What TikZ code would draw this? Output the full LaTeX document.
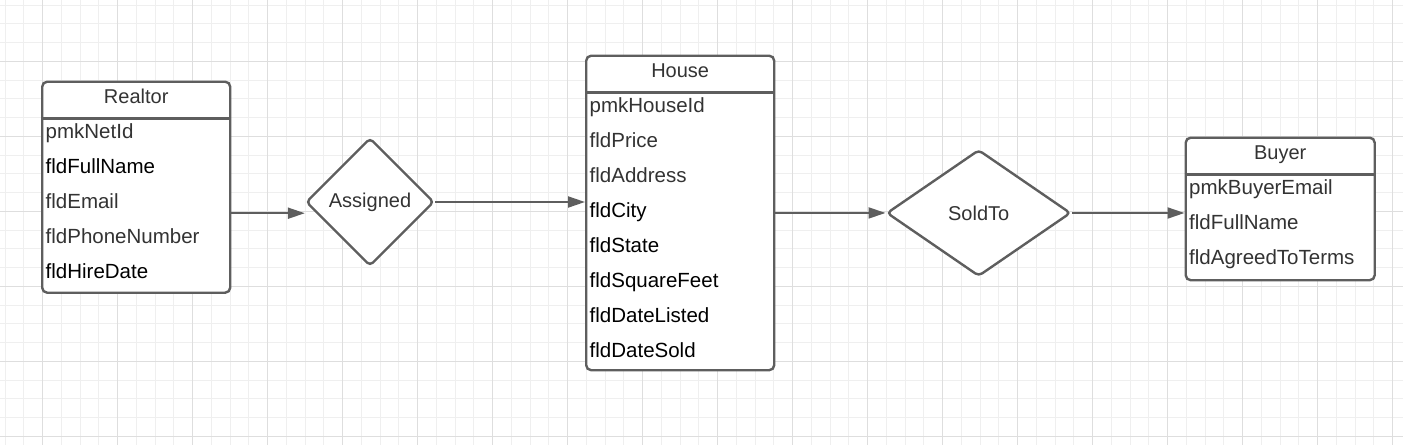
\documentclass[tikz,border=0pt]{standalone}
\usepackage{fontspec}
\setmainfont{Liberation Sans}
\usetikzlibrary{shapes.geometric, arrows.meta, positioning, calc}
\definecolor{erdline}{HTML}{5E5E5E}
\definecolor{erdtext}{HTML}{333333}
\definecolor{gridminor}{HTML}{EFEFEF}
\definecolor{gridmajor}{HTML}{DEDEDE}

\begin{document}
\begin{tikzpicture}[
        x=1pt, y=-1pt,
        entity/.style={rectangle, draw=erdline, fill=white, line width=2.4pt, rounded corners=5pt, inner sep=0pt, anchor=north west},
        divider/.style={draw=erdline, line width=2.4pt},
        entitytitle/.style={anchor=base, inner sep=0pt, text=erdtext, font=\fontsize{20}{24}\selectfont},
        attr/.style={anchor=base west, inner sep=0pt, font=\fontsize{20.5}{24}\selectfont},
        relation/.style={diamond, draw=erdline, fill=white, line width=2.4pt, rounded corners=4pt, inner sep=0pt, text=erdtext, font=\fontsize{20}{24}\selectfont},
        arrow/.style={-{Triangle[length=17pt, width=11pt]}, line width=2pt, erdline}
    ]

    % grid paper
    \useasboundingbox (0,0) rectangle (1403,445);
    \fill[white] (0,0) rectangle (1403,445);
    \foreach \k in {0,...,74} \draw[gridminor, line width=1pt] (5+18.75*\k,0) -- (5+18.75*\k,445);
    \foreach \k in {0,...,23} \draw[gridminor, line width=1pt] (0,5+18.75*\k) -- (1403,5+18.75*\k);
    \foreach \k in {0,...,18} \draw[gridmajor, line width=1pt] (42.5+75*\k,0) -- (42.5+75*\k,445);
    \foreach \k in {0,...,5} \draw[gridmajor, line width=1pt] (0,61.25+75*\k) -- (1403,61.25+75*\k);

    % entities
    \node[entity, minimum width=188pt, minimum height=211pt] (realtor) at (41,80.5) {};
    \node[entity, minimum width=188pt, minimum height=314.5pt] (house) at (585,54.5) {};
    \node[entity, minimum width=189pt, minimum height=142.5pt] (buyer) at (1184.5,136.5) {};

    \foreach \ent/\name in {realtor/Realtor, house/House, buyer/Buyer} {
        \draw[divider] ([yshift=-38pt]\ent.north west) -- ([yshift=-38pt]\ent.north east);
        \node[entitytitle] (\ent-title) at ([yshift=-23pt]\ent.north) {\name};
    }

    \foreach \txt/\col [count=\i] in {pmkNetId/erdtext, fldFullName/black, fldEmail/erdtext, fldPhoneNumber/erdtext, fldHireDate/black}
        \node[attr, text=\col] (realtor-\i) at ([xshift=4.5pt, yshift={-23pt-35pt*\i}]realtor.north west) {\txt};

    \foreach \txt/\col [count=\i] in {pmkHouseId/erdtext, fldPrice/erdtext, fldAddress/erdtext, fldCity/black, fldState/black, fldSquareFeet/black, fldDateListed/black, fldDateSold/black}
        \node[attr, text=\col] (house-\i) at ([xshift=4.5pt, yshift={-23pt-35pt*\i}]house.north west) {\txt};

    \foreach \txt/\col [count=\i] in {pmkBuyerEmail/erdtext, fldFullName/erdtext, fldAgreedToTerms/erdtext}
        \node[attr, text=\col] (buyer-\i) at ([xshift=4.5pt, yshift={-23pt-35pt*\i}]buyer.north west) {\txt};

    % relationships
    \node[relation, minimum width=128pt, minimum height=128pt] (assigned) at (370,202) {Assigned};
    \node[relation, minimum width=184pt, minimum height=126.5pt] (soldto) at (978.7,213) {SoldTo};

    \draw[arrow] ([yshift=-26pt]realtor.east) -- ([yshift=-26pt]realtor.east -| assigned.west);
    \draw[arrow] (assigned.east) -- (assigned.east -| house.west);
    \draw[arrow] (house.east) -- (house.east -| soldto.west);
    \draw[arrow] (soldto.east) -- (soldto.east -| buyer.west);

\end{tikzpicture}
\end{document}
